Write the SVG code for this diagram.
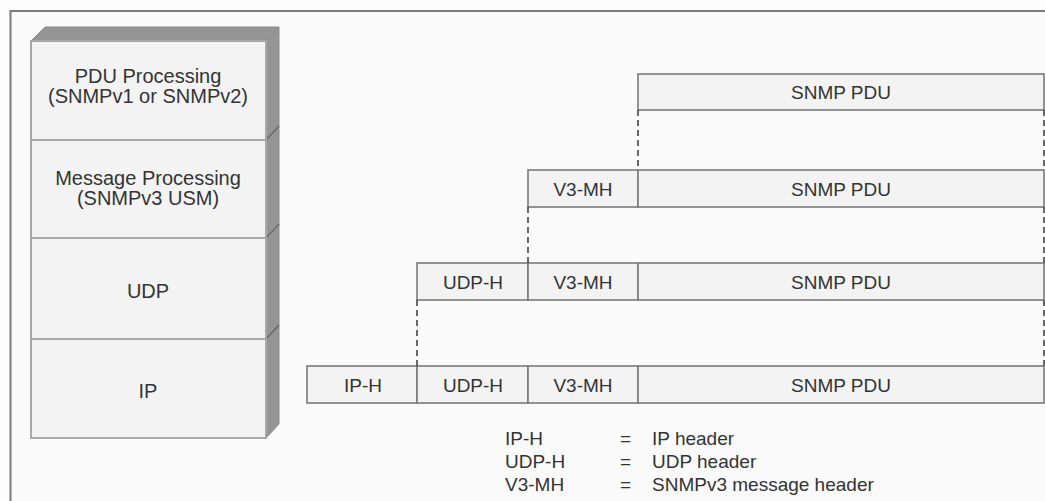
<svg xmlns="http://www.w3.org/2000/svg" width="1045" height="501" viewBox="0 0 1045 501">
<style>
text{font-family:"Liberation Sans",Arial,sans-serif;fill:#333}
.st{font-size:20px;text-anchor:middle}
.pk{font-size:19px;text-anchor:middle}
.lg{font-size:19px}
.face{fill:#f3f3f3;stroke:#a8a8a8;stroke-width:2}
.side{fill:#959595;stroke:#8a8a8a;stroke-width:1}
.cell{fill:#f3f3f3;stroke:#7a7a7a;stroke-width:1.6}
.dash{stroke:#444;stroke-width:1.6;stroke-dasharray:6 4;fill:none}
.notch{stroke:#6a6a6a;stroke-width:1.5;fill:none}
</style>
<rect x="0" y="0" width="1045" height="501" fill="#fdfdfd"/>
<rect x="10.5" y="11" width="1050" height="500" fill="#fafafa" stroke="#7a7a7a" stroke-width="2"/>

<g id="stack">
  <polygon class="side" points="31,41 45,27 279,27 266,41"/>
  <polygon class="side" points="266,41 279,27 279,424 266,438"/>
  <path class="notch" d="M266,140 L279,126 M266,238 L279,224 M266,339 L279,325"/>
</g>
<g id="layer-pdu">
  <rect class="face" x="31" y="41" width="235" height="99"/>
  <text class="st" x="148" y="83">PDU Processing</text>
  <text class="st" x="148" y="103">(SNMPv1 or SNMPv2)</text>
</g>
<g id="layer-msg">
  <rect class="face" x="31" y="140" width="235" height="98"/>
  <text class="st" x="148" y="185">Message Processing</text>
  <text class="st" x="148" y="205">(SNMPv3 USM)</text>
</g>
<g id="layer-udp">
  <rect class="face" x="31" y="238" width="235" height="101"/>
  <text class="st" x="148" y="298">UDP</text>
</g>
<g id="layer-ip">
  <rect class="face" x="31" y="339" width="235" height="99"/>
  <text class="st" x="148" y="398">IP</text>
</g>

<g id="row1">
  <rect class="cell" x="638" y="74" width="406" height="36"/>
  <text class="pk" x="841" y="99">SNMP PDU</text>
</g>
<g id="row2">
  <rect class="cell" x="528" y="170" width="110" height="37"/>
  <rect class="cell" x="638" y="170" width="406" height="37"/>
  <text class="pk" x="583" y="196">V3-MH</text>
  <text class="pk" x="841" y="196">SNMP PDU</text>
</g>
<g id="row3">
  <rect class="cell" x="417" y="263" width="111" height="37"/>
  <rect class="cell" x="528" y="263" width="110" height="37"/>
  <rect class="cell" x="638" y="263" width="406" height="37"/>
  <text class="pk" x="473" y="289">UDP-H</text>
  <text class="pk" x="583" y="289">V3-MH</text>
  <text class="pk" x="841" y="289">SNMP PDU</text>
</g>
<g id="row4">
  <rect class="cell" x="307" y="366" width="110" height="37"/>
  <rect class="cell" x="417" y="366" width="111" height="37"/>
  <rect class="cell" x="528" y="366" width="110" height="37"/>
  <rect class="cell" x="638" y="366" width="406" height="37"/>
  <text class="pk" x="363" y="392">IP-H</text>
  <text class="pk" x="473" y="392">UDP-H</text>
  <text class="pk" x="583" y="392">V3-MH</text>
  <text class="pk" x="841" y="392">SNMP PDU</text>
</g>

<g id="connectors">
  <line class="dash" x1="638" y1="110" x2="638" y2="170"/>
  <line class="dash" x1="1044" y1="110" x2="1044" y2="170"/>
  <line class="dash" x1="528" y1="207" x2="528" y2="263"/>
  <line class="dash" x1="1044" y1="207" x2="1044" y2="263"/>
  <line class="dash" x1="417" y1="300" x2="417" y2="366"/>
  <line class="dash" x1="1044" y1="300" x2="1044" y2="366"/>
</g>

<g id="legend">
  <text class="lg" x="505" y="445">IP-H</text>
  <text class="lg" x="505" y="468">UDP-H</text>
  <text class="lg" x="505" y="491">V3-MH</text>
  <text class="lg" x="620" y="445">=</text>
  <text class="lg" x="620" y="468">=</text>
  <text class="lg" x="620" y="491">=</text>
  <text class="lg" x="652" y="445">IP header</text>
  <text class="lg" x="652" y="468">UDP header</text>
  <text class="lg" x="652" y="491">SNMPv3 message header</text>
</g>
</svg>
